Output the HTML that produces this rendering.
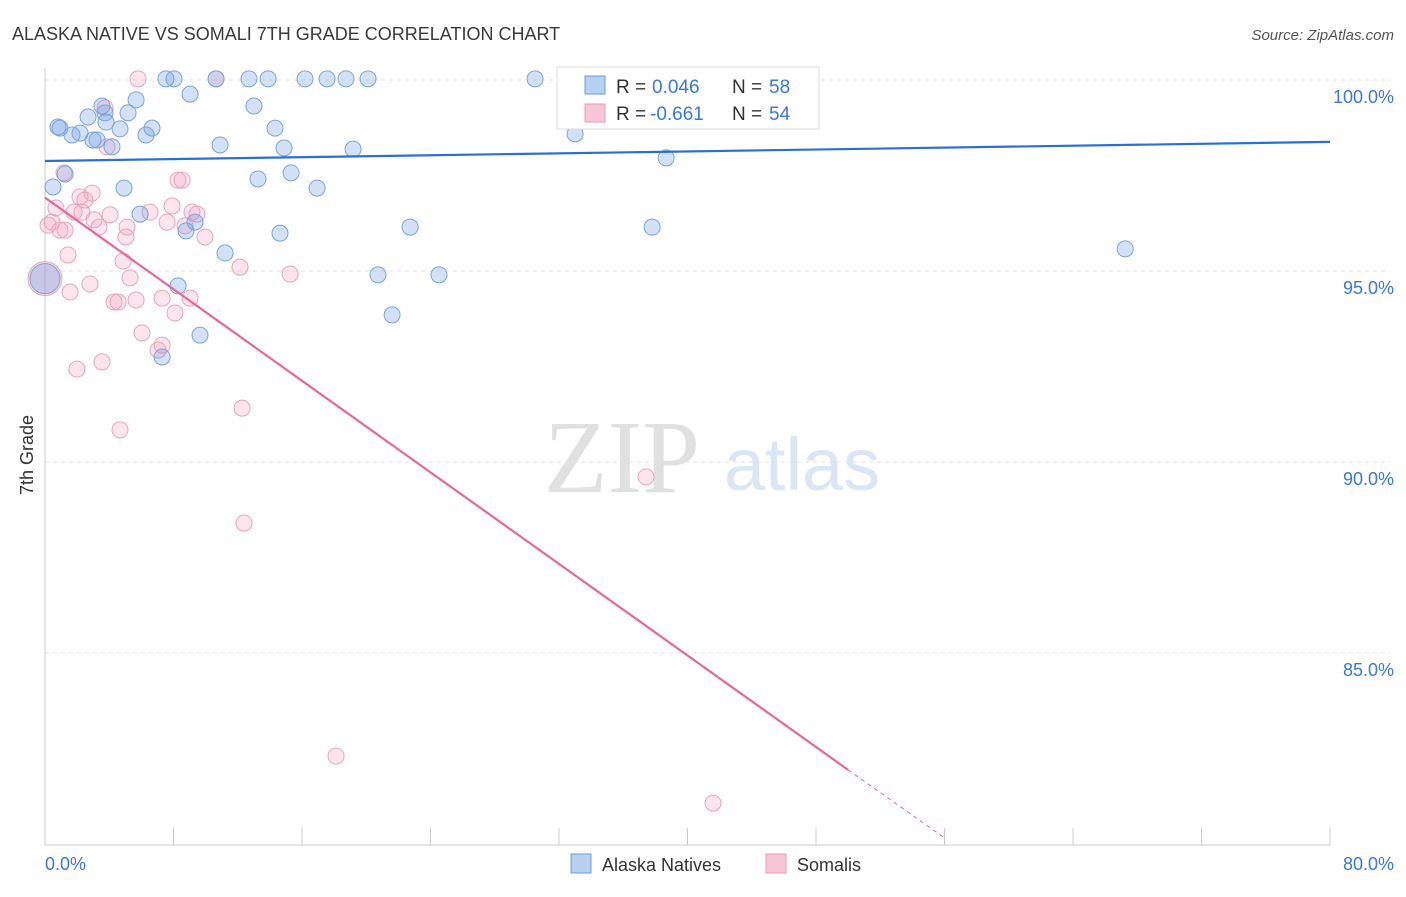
<!DOCTYPE html>
<html><head><meta charset="utf-8"><style>
body{margin:0;background:#fff;font-family:"Liberation Sans",sans-serif;}
</style></head><body>
<svg id="chart" width="1406" height="892" xmlns="http://www.w3.org/2000/svg">
<text x="12" y="40" font-size="18" fill="#3a3a3a">ALASKA NATIVE VS SOMALI 7TH GRADE CORRELATION CHART</text>
<text x="1394" y="40" font-size="15" fill="#555" font-style="italic" text-anchor="end">Source: ZipAtlas.com</text>
<text x="622" y="492" font-size="104" fill="#e0e0e0" font-family="Liberation Serif" text-anchor="middle">ZIP</text>
<text x="802" y="490" font-size="74" fill="#dae6f5" text-anchor="middle">atlas</text>
<g id="grid"></g><g id="axes"></g><g id="pts"></g><g id="lines"></g>
<text transform="translate(33,455) rotate(-90)" font-size="18" fill="#333" text-anchor="middle">7th Grade</text>
<text x="45" y="870" font-size="18" fill="#3b78d8">0.0%</text>
<text x="1394" y="870" font-size="18" fill="#3b78d8" text-anchor="end">80.0%</text>
<g>
<rect x="557" y="67" width="262" height="62" fill="#fff" stroke="#ddd"/>
<rect x="585" y="76" width="20" height="18" fill="#b8d0f2" stroke="#6a9bd8"/>
<rect x="585" y="104" width="20" height="18" fill="#f8c6d6" stroke="#e89ab5"/>
<text x="616" y="93" font-size="19" fill="#333">R =</text>
<text x="652" y="93" font-size="19" fill="#3b78d8">0.046</text>
<text x="732" y="93" font-size="19" fill="#333">N =</text>
<text x="769" y="93" font-size="19" fill="#3b78d8">58</text>
<text x="616" y="120" font-size="19" fill="#333">R =</text>
<text x="650" y="120" font-size="19" fill="#3b78d8">-0.661</text>
<text x="732" y="120" font-size="19" fill="#333">N =</text>
<text x="769" y="120" font-size="19" fill="#3b78d8">54</text>
</g>
<g>
<rect x="571" y="854" width="20" height="19" fill="#b8d0f2" stroke="#6a9bd8"/>
<text x="602" y="871" font-size="18" fill="#333">Alaska Natives</text>
<rect x="766" y="854" width="20" height="19" fill="#f8c6d6" stroke="#e89ab5"/>
<text x="797" y="871" font-size="18" fill="#333">Somalis</text>
</g>
</svg>
<script>
const yTicks=[100,95,90,85];
const xTicks=[0,8,16,24,32,40,48,56,64,72,80];
const bluePx=[[58,127],[72,135],[80,133],[88,117],[93,140],[102,106],[106,122],[112,147],[120,129],[128,113],[136,100],[146,135],[152,128],[166,79],[174,79],[190,94],[216,79],[220,145],[249,79],[254,106],[268,79],[275,128],[284,148],[305,79],[327,79],[346,79],[368,79],[353,149],[53,187],[65,174],[124,188],[140,214],[186,231],[195,222],[225,253],[258,179],[291,173],[317,188],[280,233],[410,227],[378,275],[439,275],[392,315],[178,286],[200,335],[162,357],[535,79],[575,134],[666,158],[652,227],[712,79],[762,79],[787,79],[1125,249],[97,140],[60,128],[105,113]];
const pinkPx=[[138,79],[216,79],[105,108],[107,147],[64,173],[178,180],[182,180],[92,193],[80,197],[85,200],[56,208],[74,212],[82,212],[94,220],[110,215],[150,212],[172,206],[192,212],[197,214],[52,222],[60,230],[65,230],[99,227],[127,227],[126,237],[167,222],[185,226],[205,237],[68,255],[123,261],[240,267],[290,274],[130,278],[90,284],[70,292],[114,302],[118,302],[136,300],[162,298],[190,298],[175,313],[142,333],[158,350],[162,345],[102,362],[77,369],[242,408],[120,430],[646,477],[244,523],[336,756],[713,803],[48,225]];
const blueX=bluePx.map(p=>+((p[0]-45)/16.06).toFixed(2)), blueY=bluePx.map(p=>+(100-(p[1]-80)/38.2).toFixed(2));
const pinkX=pinkPx.map(p=>+((p[0]-45)/16.06).toFixed(2)), pinkY=pinkPx.map(p=>+(100-(p[1]-80)/38.2).toFixed(2));
const blueTrend=[[0,97.88],[80,98.38]];
const pinkTrend=[[0,96.92],[50,81.94],[56,80.16]];
const X=v=>45+v*16.0625, Y=v=>80+(100-v)*38.2;
const NS="http://www.w3.org/2000/svg";
function mk(tag,attrs,parent){const e=document.createElementNS(NS,tag);for(const k in attrs)e.setAttribute(k,attrs[k]);document.getElementById(parent).appendChild(e);return e;}
yTicks.forEach(t=>{
 const l=mk('line',{x1:45,x2:1390,y1:Y(t),y2:Y(t),stroke:'#e2e2e2','stroke-dasharray':'4,4'},'grid');
 
 
 const tx=mk('text',{x:1394,y:Y(t)+23,'font-size':18,fill:'#3b78d8','text-anchor':'end'},'grid');
 tx.textContent=t.toFixed(1)+'%';
 
 
});
const ax=mk('line',{x1:45,x2:1330,y1:845,y2:845,stroke:'#ccc'},'axes');


const ay=mk('line',{x1:45,x2:45,y1:68,y2:845,stroke:'#ccc'},'axes');


xTicks.forEach(t=>{const l=mk('line',{x1:X(t),x2:X(t),y1:828,y2:845,stroke:'#ccc'},'axes');
 
 });
function dot(x,y,r,fill,stroke,name){const c=mk('circle',{cx:X(x),cy:Y(y),r:r,fill:fill,stroke:stroke,'stroke-width':1},'pts');
 
 }
dot(0,94.8,17,'rgba(240,150,180,0.3)','#eaa3bd','somali-point-large');
dot(0,94.8,15,'rgba(110,155,225,0.35)','#78a5dc','alaska-native-point-large');
pinkX.forEach((x,i)=>dot(x,pinkY[i],8,'rgba(245,170,195,0.3)','#eaa3bd','somali-point'));
blueX.forEach((x,i)=>dot(x,blueY[i],8,'rgba(110,155,225,0.3)','#78a5dc','alaska-native-point'));
const bl=mk('line',{x1:X(blueTrend[0][0]),y1:Y(blueTrend[0][1]),x2:X(blueTrend[1][0]),y2:Y(blueTrend[1][1]),stroke:'#2a6fd6','stroke-width':2.2},'lines');


const pl=mk('line',{x1:X(pinkTrend[0][0]),y1:Y(pinkTrend[0][1]),x2:X(pinkTrend[1][0]),y2:Y(pinkTrend[1][1]),stroke:'#e8679a','stroke-width':2.2},'lines');


const pd=mk('line',{x1:X(pinkTrend[1][0]),y1:Y(pinkTrend[1][1]),x2:X(pinkTrend[2][0]),y2:Y(pinkTrend[2][1]),stroke:'#e8679a','stroke-width':1,'stroke-dasharray':'4,4'},'lines');


</script>
</body></html>
